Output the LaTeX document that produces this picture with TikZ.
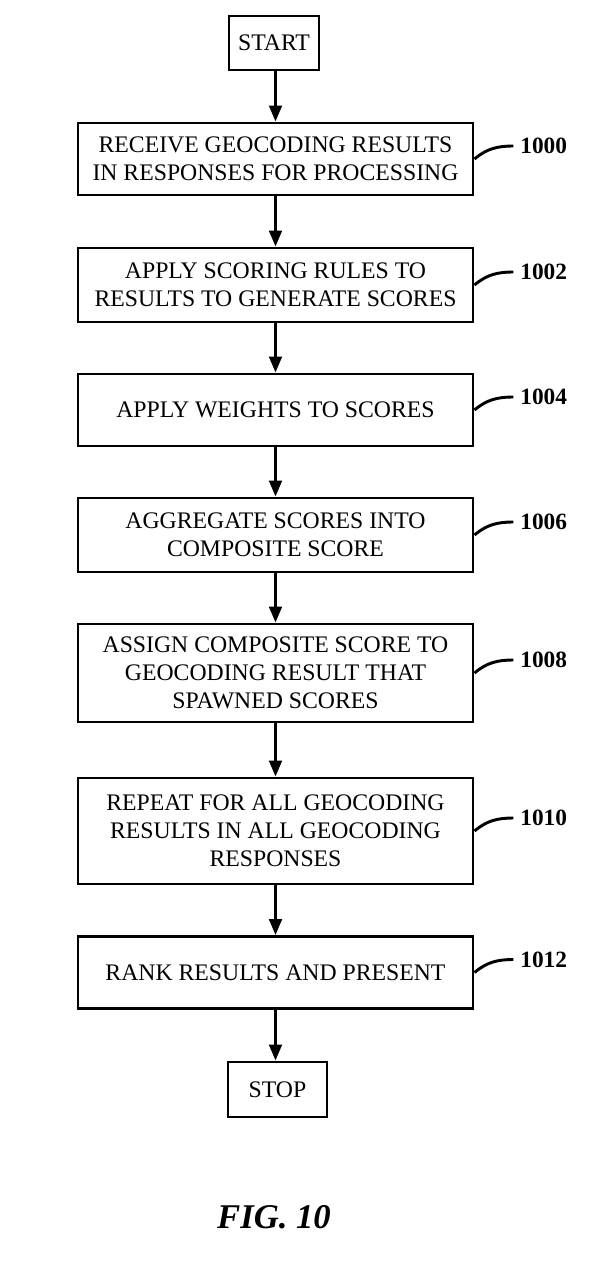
\documentclass[tikz,border=0pt]{standalone}
\usepackage{fontspec}
\setmainfont{Liberation Serif}
\usetikzlibrary{arrows.meta}
\begin{document}
\begin{tikzpicture}[x=0.75pt,y=-0.75pt,
  box/.style={draw, line width=2.2pt, align=center, inner sep=0pt,
    font=\fontsize{17.8}{21}\selectfont},
  flow/.style={line width=2.2pt, -{Triangle[length=12pt,width=9.5pt]}},
  lead/.style={line width=2.2pt},
  num/.style={font=\fontsize{17.5}{21}\selectfont\bfseries, anchor=west, inner sep=5pt},
  wide/.style={minimum width=395*0.75pt}]
\useasboundingbox (0,0) rectangle (597,1263);
\node[box, minimum width=90*0.75pt, minimum height=54*0.75pt] (start) at (274,43) {START};
\node[box, wide, minimum height=72*0.75pt] (b1) at (275.5,159) {RECEIVE GEOCODING RESULTS\\IN RESPONSES FOR PROCESSING};
\node[box, wide, minimum height=74*0.75pt] (b2) at (275.5,285) {APPLY SCORING RULES TO\\RESULTS TO GENERATE SCORES};
\node[box, wide, minimum height=72*0.75pt] (b3) at (275.5,410) {APPLY WEIGHTS TO SCORES};
\node[box, wide, minimum height=74*0.75pt] (b4) at (275.5,535) {AGGREGATE SCORES INTO\\COMPOSITE SCORE};
\node[box, wide, minimum height=98*0.75pt] (b5) at (275.5,673) {ASSIGN COMPOSITE SCORE TO\\GEOCODING RESULT THAT\\SPAWNED SCORES};
\node[box, wide, minimum height=106*0.75pt] (b6) at (275.5,831) {REPEAT FOR ALL GEOCODING\\RESULTS IN ALL GEOCODING\\RESPONSES};
\node[box, wide, minimum height=72*0.75pt] (b7) at (275.5,972.5) {RANK RESULTS AND PRESENT};
\node[box, minimum width=99*0.75pt, minimum height=55*0.75pt] (stop) at (277.5,1089.5) {STOP};
\node[font=\fontsize{26}{30}\selectfont\bfseries\itshape] (fig) at (274,1217) {FIG. 10};

\draw[flow] (b1.north |- start.south) -- (b1.north);
\draw[flow] (b1.south) -- (b2.north);
\draw[flow] (b2.south) -- (b3.north);
\draw[flow] (b3.south) -- (b4.north);
\draw[flow] (b4.south) -- (b5.north);
\draw[flow] (b5.south) -- (b6.north);
\draw[flow] (b6.south) -- (b7.north);
\draw[flow] (b7.south) -- (b7.south |- stop.north);

\foreach \b/\n in {b1/1000, b2/1002, b3/1004, b4/1006, b5/1008, b6/1010, b7/1012} {
  \node[num] (n\n) at ([xshift=39*0.75pt, yshift=13*0.75pt]\b.east) {\n};
  \draw[lead] (\b.east) to[out=40, in=180] (n\n.west);
}
\end{tikzpicture}
\end{document}
